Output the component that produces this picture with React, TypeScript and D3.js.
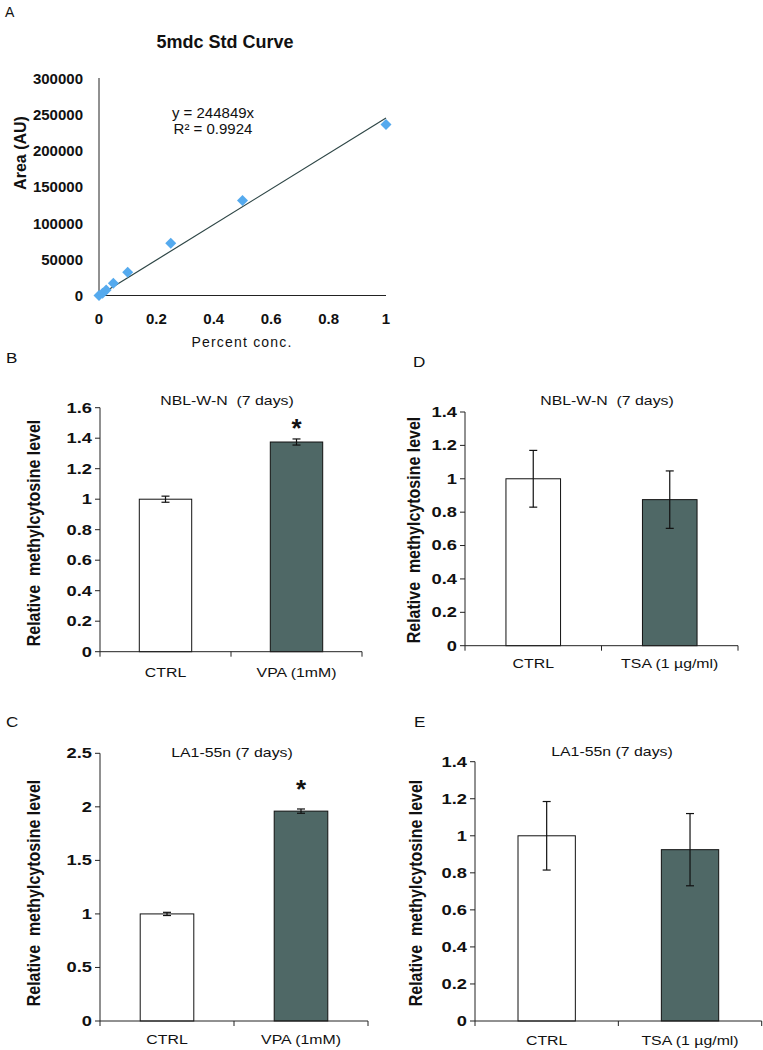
import React from "react";
import * as d3 from "d3";

// ---------- Panel A data ----------
const stdConc = [0, 0.0125, 0.025, 0.05, 0.1, 0.25, 0.5, 1];
const stdArea = [0, 3000, 7500, 17000, 32000, 72000, 131000, 236000];
const slope = 244849;
const aXTicks = [0, 0.2, 0.4, 0.6, 0.8, 1];
const aYTicks = [0, 50000, 100000, 150000, 200000, 250000, 300000];

// ---------- Bar panels data ----------
const vpaCats = ["CTRL", "VPA (1mM)"];
const tsaCats = ["CTRL", "TSA (1 µg/ml)"];
const bVals = [1.0, 1.375];
const bErr = [0.02, 0.02];
const dVals = [1.0, 0.875];
const dErr = [0.17, 0.172];
const cVals = [1.0, 1.96];
const cErr = [0.015, 0.02];
const eVals = [1.0, 0.925];
const eErr = [0.185, 0.195];
const ticks14 = [0, 0.2, 0.4, 0.6, 0.8, 1, 1.2, 1.4];
const ticks16 = [0, 0.2, 0.4, 0.6, 0.8, 1, 1.2, 1.4, 1.6];
const ticks25 = [0, 0.5, 1, 1.5, 2, 2.5];
const bSig = [null, 1.49];
const cSig = [null, 2.2];

const FONT = "'Liberation Sans', Arial, sans-serif";
const DARK = "#4f6866";
const INK = "#111";
const SX = 1.22;

function fmt(v: number) {
  return String(+v.toFixed(1));
}

function PanelA() {
  const x = d3.scaleLinear().domain([0, 1]).range([99, 386]);
  const y = d3.scaleLinear().domain([0, 300000]).range([295.5, 78]);
  const line = d3.line<number>().x((d) => x(d)).y((d) => y(slope * d));
  const sq = d3.symbol().type(d3.symbolSquare).size(60)();
  return (
    <g fontFamily={FONT} fill={INK}>
      <text x={5} y={17} fontSize={14}>A</text>
      <text x={225} y={42} fontSize={18} fontWeight="bold" textAnchor="middle" dominantBaseline="central">
        5mdc Std Curve
      </text>
      <line x1={x(0)} x2={x(0)} y1={y(300000)} y2={y(0)} stroke="#222" />
      <line x1={x(0)} x2={x(1)} y1={y(0)} y2={y(0)} stroke="#222" />
      {aYTicks.map((t) => (
        <text key={t} x={83} y={y(t)} fontSize={15} fontWeight="bold" textAnchor="end" dominantBaseline="central">
          {t}
        </text>
      ))}
      {aXTicks.map((t) => (
        <text key={t} x={x(t)} y={318} fontSize={15} fontWeight="bold" textAnchor="middle" dominantBaseline="central">
          {fmt(t)}
        </text>
      ))}
      <path d={line([0, 1]) || ""} stroke="#2e4646" strokeWidth={1.2} fill="none" />
      {stdConc.map((c, i) => (
        <path
          key={i}
          d={sq || ""}
          transform={`translate(${x(c)},${y(stdArea[i])}) rotate(45)`}
          fill="#55aaee"
        />
      ))}
      <text x={213} y={112} fontSize={15} textAnchor="middle" dominantBaseline="central">
        y = 244849x
      </text>
      <text x={213} y={128} fontSize={15} textAnchor="middle" dominantBaseline="central">
        R² = 0.9924
      </text>
      <text
        transform={`translate(20,153) rotate(-90)`}
        fontSize={16}
        fontWeight="bold"
        textAnchor="middle"
        dominantBaseline="central"
      >
        Area (AU)
      </text>
      <text x={242} y={342} fontSize={14} letterSpacing={1.2} textAnchor="middle" dominantBaseline="central">
        Percent conc.
      </text>
    </g>
  );
}

type BarProps = {
  letter: string;
  letterPos: [number, number];
  title: string;
  titlePos: [number, number];
  cats: string[];
  vals: number[];
  errs: number[];
  ticks: number[];
  x0: number;
  x1: number;
  yTop: number;
  yBot: number;
  ytitleX: number;
  ytitleY: number;
  catDy: number;
  sig?: (number | null)[];
};

function BarPanel(p: BarProps) {
  const x = d3.scaleBand().domain(p.cats).range([p.x0, p.x1]).padding(0);
  const ymax = p.ticks[p.ticks.length - 1];
  const y = d3.scaleLinear().domain([0, ymax]).range([p.yBot, p.yTop]);
  const bw = x.bandwidth() * 0.4;
  const xTickPos = [p.x0, ...p.cats.map((c) => (x(c) as number) + x.bandwidth())];
  return (
    <g fontFamily={FONT} fill={INK}>
      <text transform={`translate(${p.letterPos[0]},${p.letterPos[1]}) scale(${SX},1)`} fontSize={14} dominantBaseline="central">
        {p.letter}
      </text>
      <text
        transform={`translate(${p.titlePos[0]},${p.titlePos[1]}) scale(${SX},1)`}
        fontSize={13}
        textAnchor="middle"
        dominantBaseline="central"
        style={{ whiteSpace: "pre" }}
      >
        {p.title}
      </text>
      {p.cats.map((c, i) => {
        const cx = (x(c) as number) + x.bandwidth() / 2;
        return (
          <rect
            key={c}
            x={cx - bw / 2}
            width={bw}
            y={y(p.vals[i])}
            height={y(0) - y(p.vals[i])}
            fill={i === 0 ? "#fff" : DARK}
            stroke="#111"
            strokeWidth={1}
          />
        );
      })}
      {p.cats.map((c, i) => {
        const cx = (x(c) as number) + x.bandwidth() / 2;
        const hi = y(p.vals[i] + p.errs[i]);
        const lo = y(p.vals[i] - p.errs[i]);
        return (
          <g key={c} stroke="#111" strokeWidth={1.2}>
            <line x1={cx} x2={cx} y1={hi} y2={lo} />
            <line x1={cx - 4} x2={cx + 4} y1={hi} y2={hi} />
            <line x1={cx - 4} x2={cx + 4} y1={lo} y2={lo} />
          </g>
        );
      })}
      {p.sig &&
        p.cats.map((c, i) => {
          const s = p.sig![i];
          if (s == null) return null;
          const cx = (x(c) as number) + x.bandwidth() / 2;
          return (
            <text key={c} x={cx} y={y(s) + 13} fontSize={26} fontWeight="bold" textAnchor="middle">
              *
            </text>
          );
        })}
      <line x1={p.x0} x2={p.x0} y1={p.yTop} y2={p.yBot} stroke="#222" />
      <line x1={p.x0} x2={p.x1} y1={p.yBot} y2={p.yBot} stroke="#222" />
      {p.ticks.map((t) => (
        <g key={t}>
          <line x1={p.x0 - 5} x2={p.x0} y1={y(t)} y2={y(t)} stroke="#222" />
          <text
            transform={`translate(${p.x0 - 8},${y(t)}) scale(${SX},1)`}
            fontSize={15}
            fontWeight="bold"
            textAnchor="end"
            dominantBaseline="central"
          >
            {fmt(t)}
          </text>
        </g>
      ))}
      {xTickPos.map((tx, i) => (
        <line key={i} x1={tx} x2={tx} y1={p.yBot} y2={p.yBot + 5} stroke="#222" />
      ))}
      {p.cats.map((c) => (
        <text
          key={c}
          transform={`translate(${(x(c) as number) + x.bandwidth() / 2},${p.yBot + p.catDy}) scale(${SX},1)`}
          fontSize={13}
          textAnchor="middle"
          dominantBaseline="central"
        >
          {c}
        </text>
      ))}
      <text
        transform={`translate(${p.ytitleX},${p.ytitleY}) scale(1.2,1) rotate(-90)`}
        fontSize={16}
        fontWeight="bold"
        textAnchor="middle"
        dominantBaseline="central"
        style={{ whiteSpace: "pre" }}
      >
        {"Relative  methylcytosine level"}
      </text>
    </g>
  );
}

export default function App() {
  return (
    <svg
      width={763}
      height={1050}
      viewBox="0 0 763 1050"
      style={{ position: "absolute", left: 0, top: 0, background: "#fff" }}
    >
      <rect width={763} height={1050} fill="#fff" />
      <PanelA />
      <BarPanel
        letter="B"
        letterPos={[6, 358]}
        title={"NBL-W-N  (7 days)"}
        titlePos={[227, 401]}
        cats={vpaCats}
        vals={bVals}
        errs={bErr}
        ticks={ticks16}
        x0={100}
        x1={362}
        yTop={407.7}
        yBot={651.7}
        ytitleX={33}
        ytitleY={533}
        catDy={21}
        sig={bSig}
      />
      <BarPanel
        letter="D"
        letterPos={[413, 362]}
        title={"NBL-W-N  (7 days)"}
        titlePos={[607, 401]}
        cats={tsaCats}
        vals={dVals}
        errs={dErr}
        ticks={ticks14}
        x0={465}
        x1={738}
        yTop={412}
        yBot={645.7}
        ytitleX={413}
        ytitleY={530}
        catDy={18}
      />
      <BarPanel
        letter="C"
        letterPos={[6, 722]}
        title={"LA1-55n (7 days)"}
        titlePos={[232, 753]}
        cats={vpaCats}
        vals={cVals}
        errs={cErr}
        ticks={ticks25}
        x0={100}
        x1={368}
        yTop={753.3}
        yBot={1021}
        ytitleX={33}
        ytitleY={893}
        catDy={19}
        sig={cSig}
      />
      <BarPanel
        letter="E"
        letterPos={[414, 722]}
        title={"LA1-55n (7 days)"}
        titlePos={[612, 752]}
        cats={tsaCats}
        vals={eVals}
        errs={eErr}
        ticks={ticks14}
        x0={475}
        x1={761.7}
        yTop={761.7}
        yBot={1021}
        ytitleX={415}
        ytitleY={893}
        catDy={20}
      />
    </svg>
  );
}
